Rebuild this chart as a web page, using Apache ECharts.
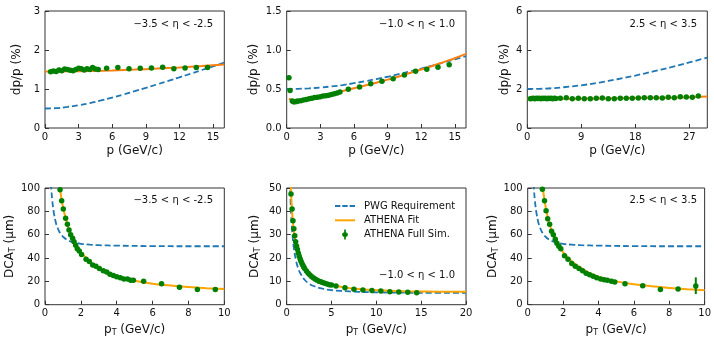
<!DOCTYPE html>
<html><head><meta charset="utf-8">
<script src="https://cdn.jsdelivr.net/npm/echarts@6/dist/echarts.min.js"></script>
<style>html,body{margin:0;padding:0;background:#fff}#c{width:714px;height:338px}</style>
</head><body><div id="c"></div>
<script>
// ---------- Panel 1: dp/p, -3.5 < eta < -2.5 ----------
const p1PwgP = [0,1,2,3,4,5,6,7,8,9,10,11,12,13,14,15,16];
const p1PwgV = [0.5,0.51,0.539,0.583,0.64,0.707,0.781,0.86,0.943,1.03,1.118,1.208,1.3,1.393,1.487,1.581,1.676];
const p1FitP = [0,2,4,6,8,10,12,14,16];
const p1FitV = [1.45,1.453,1.462,1.477,1.497,1.523,1.554,1.59,1.63];
const p1SimP = [0.5,0.75,1.0,1.25,1.5,1.75,2.0,2.25,2.5,2.75,3.0,3.25,3.5,3.75,4.0,4.25,4.5,4.75,5.5,6.5,7.5,8.5,9.5,10.5,11.5,12.5,13.5,14.5];
const p1SimV = [1.44,1.46,1.45,1.49,1.47,1.51,1.50,1.48,1.47,1.50,1.53,1.52,1.49,1.52,1.50,1.55,1.51,1.50,1.53,1.55,1.52,1.53,1.54,1.56,1.52,1.54,1.55,1.55];

// ---------- Panel 2: dp/p, -1.0 < eta < 1.0 ----------
const p2PwgP = [0,1,2,3,4,5,6,7,8,9,10,11,12,13,14,15,16];
const p2PwgV = [0.5,0.502,0.508,0.519,0.533,0.551,0.574,0.6,0.628,0.657,0.69,0.725,0.762,0.8,0.84,0.88,0.92];
const p2FitP = [0.2,0.5,1,2,3,4,5,6,7,8,9,10,11,12,13,14,15,16];
const p2FitV = [0.375,0.36,0.355,0.375,0.405,0.44,0.475,0.51,0.545,0.58,0.62,0.66,0.705,0.75,0.795,0.845,0.895,0.95];
const p2SimP = [0.2,0.3,0.5,0.6,0.7,0.8,0.9,1.0,1.25,1.5,1.75,2.0,2.25,2.5,2.75,3.0,3.25,3.5,3.75,4.0,4.25,4.5,4.75,5.5,6.5,7.5,8.5,9.5,10.5,11.5,12.5,13.5,14.5];
const p2SimV = [0.645,0.48,0.345,0.335,0.335,0.34,0.34,0.345,0.35,0.36,0.365,0.375,0.38,0.39,0.395,0.40,0.41,0.415,0.42,0.43,0.44,0.45,0.46,0.496,0.525,0.568,0.598,0.633,0.68,0.727,0.752,0.778,0.81];

// ---------- Panel 3: dp/p, 2.5 < eta < 3.5 ----------
const p3PwgP = [0,3,6,9,12,15,18,21,24,27,30];
const p3PwgV = [2.0,2.02,2.09,2.19,2.33,2.5,2.69,2.9,3.12,3.36,3.61];
const p3FitP = [0,5,10,15,20,25,30];
const p3FitV = [1.5,1.502,1.51,1.525,1.545,1.57,1.61];
const p3SimP = [0.5,0.75,1,1.25,1.5,1.75,2,2.25,2.5,2.75,3,3.25,3.5,3.75,4,4.25,4.5,4.75,5.5,6.5,7.5,8.5,9.5,10.5,11.5,12.5,13.5,14.5,15.5,16.5,17.5,18.5,19.5,20.5,21.5,22.5,23.5,24.5,25.5,26.5,27.5,28.5];
const p3SimV = [1.50,1.51,1.52,1.50,1.53,1.51,1.52,1.50,1.53,1.51,1.52,1.50,1.52,1.51,1.53,1.50,1.52,1.51,1.52,1.556,1.504,1.521,1.504,1.504,1.521,1.538,1.504,1.504,1.521,1.521,1.521,1.538,1.556,1.556,1.556,1.538,1.573,1.556,1.607,1.59,1.573,1.641];

// ---------- Panel 4: DCA_T, -3.5 < eta < -2.5 ----------
const p4PwgP = [0.33,0.35,0.4,0.45,0.5,0.6,0.7,0.8,0.9,1,1.2,1.5,2,2.5,3,4,6,8,10];
const p4PwgV = [104,99.2,90.1,83.3,78.1,70.7,65.9,62.5,60.1,58.3,55.9,53.9,52.2,51.4,51.0,50.6,50.2,50.1,50.1];
const p4FitP = [0.8,0.85,1,1.25,1.5,1.75,2,2.5,3,3.5,4,5,6,7,8,9,10];
const p4FitV = [104,98,84,68.5,58,51,45,37,31.5,27.5,24.5,20.5,18,16.5,15.2,14.2,13.4];
const p4SimP = [0.84,0.93,1.02,1.15,1.25,1.34,1.43,1.54,1.62,1.71,1.8,1.91,2.04,2.29,2.47,2.66,2.84,3.03,3.25,3.44,3.62,3.81,4.0,4.2,4.4,4.6,4.78,4.93,5.5,6.5,7.5,8.5,9.5];
const p4SimV = [98.6,89,82,74,69,64,60,57,54,51,48,46,43,39,37,34,33,31,29,28,26,25,24,23,22,22,21,21,20,18,15,13,13];
const p4ErrP = [9.5];
const p4ErrLo = [11];
const p4ErrHi = [15];

// ---------- Panel 5: DCA_T, -1.0 < eta < 1.0 ----------
const p5PwgP = [0.36,0.38,0.45,0.5,0.6,0.7,0.8,1,1.25,1.5,2,2.5,3,4,5,6,8,10,15,20];
const p5PwgV = [53,50.2,42.5,38.3,32.1,27.6,24.3,19.6,15.9,13.6,10.7,9.0,8.0,6.9,6.2,5.9,5.5,5.3,5.1,5.05];
const p5FitP = [0.45,0.5,0.6,0.7,0.8,0.9,1.0,1.2,1.4,1.6,1.8,2.0,2.5,3.0,3.5,4,5,6,7,8,10,12,14,17,20];
const p5FitV = [52,46.5,40,35.3,31.8,29,26.8,23.4,20.9,19,17.4,16.1,13.6,12,10.8,9.9,8.6,7.7,7.1,6.7,6.2,5.9,5.7,5.6,5.5];
const p5SimP = [0.48,0.6,0.7,0.8,0.9,1.0,1.1,1.2,1.3,1.4,1.5,1.6,1.7,1.8,1.9,2.0,2.2,2.4,2.6,2.8,3.0,3.2,3.4,3.6,3.8,4.0,4.25,4.5,4.75,5.0,5.5,6.5,7.5,8.5,9.5,10.5,11.5,12.5,13.5,14.5];
const p5SimV = [47.4,41,36,32.5,29.5,27,25.2,23.6,22,20.8,19.6,18.6,17.7,16.9,16.2,15.5,14.4,13.5,12.7,12.0,11.4,10.9,10.5,10.1,9.8,9.5,9.2,8.9,8.6,8.4,8.0,7.3,6.6,6.3,6.1,5.9,5.5,5.4,5.3,5.1];

// ---------- Panel 6: DCA_T, 2.5 < eta < 3.5 ----------
const p6PwgP = [0.33,0.35,0.4,0.45,0.5,0.6,0.7,0.8,0.9,1,1.2,1.5,2,2.5,3,4,6,8,10];
const p6PwgV = [104,99.2,90.1,83.3,78.1,70.7,65.9,62.5,60.1,58.3,55.9,53.9,52.2,51.4,51.0,50.6,50.2,50.1,50.1];
const p6FitP = [0.8,0.85,1,1.25,1.5,1.75,2,2.5,3,3.5,4,5,6,7,8,9,10];
const p6FitV = [104,100,85,68,58,51,45,37,31.5,27,24,20,17.5,15.8,14.4,13.3,12.4];
const p6SimP = [0.83,0.95,1.04,1.13,1.24,1.35,1.45,1.56,1.65,1.76,1.87,2.08,2.28,2.49,2.69,2.9,3.1,3.3,3.5,3.7,3.9,4.12,4.32,4.5,4.73,4.92,5.5,6.5,7.5,8.5,9.5];
const p6SimV = [99,89,80.6,73.7,69,63,60,56,52.6,50,48,42,39,35.4,33,31,29,27,25.7,24.3,23,22,21.4,21,20,19.4,18,16.3,13,13.4,16];
const p6ErrP = [9.5];
const p6ErrLo = [9.1];
const p6ErrHi = [23.4];

// ---------- Axis ticks ----------
const xTicksTop12 = [0,3,6,9,12,15];
const xTicksTop3 = [0,9,18,27];
const xTicksBot = [0,2,4,6,8,10];
const xTicksBot5 = [0,5,10,15,20];
const yTicks1 = [0,1,2,3];
const yTicks2 = [0,0.5,1.0,1.5];
const yTicks3 = [0,2,4,6];
const yTicks4 = [0,20,40,60,80,100];
const yTicks5 = [0,10,20,30,40,50];
const etaLabels = ['−3.5 < η < -2.5','−1.0 < η < 1.0','2.5 < η < 3.5','−3.5 < η < -2.5','−1.0 < η < 1.0','2.5 < η < 3.5'];
const legendNames = ['PWG Requirement','ATHENA Fit','ATHENA Full Sim.'];

const FF = 'DejaVu Sans';
const TXT = '#111';
const BLUE = '#1f77b4', ORANGE_TOP = '#ff7f0e', ORANGE_BOT = '#ffa500', GREEN = '#008000';
const zip = (a, b) => a.map((v, i) => [v, b[i]]);

const grids = [
  {left:45, top:11, width:179.3, height:117},
  {left:286.7, top:11, width:179.3, height:117},
  {left:527.3, top:11, width:180, height:117},
  {left:45, top:188, width:179.3, height:116.7},
  {left:286.7, top:188, width:179.3, height:116.7},
  {left:527.7, top:188, width:179.6, height:116.7}
].map(g => Object.assign({show:true, borderColor:'#333', borderWidth:1, containLabel:false}, g));

const subRich = {
  n:{fontFamily:FF, fontSize:12, color:TXT, lineHeight:14, verticalAlign:'middle'},
  s:{fontFamily:FF, fontSize:8, color:TXT, lineHeight:8, verticalAlign:'bottom'}
};
function xAx(i, max, ticks, name, gap){
  return {gridIndex:i, type:'value', min:0, max:max,
    name:name, nameLocation:'middle', nameGap:gap,
    nameTextStyle:{fontFamily:FF, fontSize:12, color:TXT, rich:subRich},
    axisLine:{show:false}, splitLine:{show:false},
    axisTick:{show:true, inside:true, length:4, lineStyle:{color:'#333'}, customValues:ticks},
    axisLabel:{fontFamily:FF, fontSize:10, color:TXT, margin:4, customValues:ticks}};
}
function yAx(i, max, ticks, name, gap, dec){
  return {gridIndex:i, type:'value', min:0, max:max,
    name:name, nameLocation:'middle', nameGap:gap,
    nameTextStyle:{fontFamily:FF, fontSize:12, color:TXT, rich:subRich},
    axisLine:{show:false}, splitLine:{show:false},
    axisTick:{show:true, inside:true, length:4, lineStyle:{color:'#333'}, customValues:ticks},
    axisLabel:{fontFamily:FF, fontSize:10, color:TXT, margin:5, customValues:ticks,
      formatter: v => dec ? Number(v).toFixed(dec) : String(v)}};
}
const xAxes = [
  xAx(0,16,xTicksTop12,'p (GeV/c)',17),
  xAx(1,16,xTicksTop12,'p (GeV/c)',17),
  xAx(2,30,xTicksTop3,'p (GeV/c)',17),
  xAx(3,10,xTicksBot,'{n|p}{s|T}{n| (GeV/c)}',18),
  xAx(4,20,xTicksBot5,'{n|p}{s|T}{n| (GeV/c)}',18),
  xAx(5,10,xTicksBot,'{n|p}{s|T}{n| (GeV/c)}',18)
];
const yAxes = [
  yAx(0,3,yTicks1,'dp/p (%)',22,0),
  yAx(1,1.5,yTicks2,'dp/p (%)',27,1),
  yAx(2,6,yTicks3,'dp/p (%)',16,0),
  yAx(3,100,yTicks4,'{n|DCA}{s|T}{n| (μm)}',24,0),
  yAx(4,50,yTicks5,'{n|DCA}{s|T}{n| (μm)}',25,0),
  yAx(5,100,yTicks4,'{n|DCA}{s|T}{n| (μm)}',26,0)
];

const panels = [
  {pwg:zip(p1PwgP,p1PwgV), fit:zip(p1FitP,p1FitV), sim:zip(p1SimP,p1SimV), orange:ORANGE_TOP},
  {pwg:zip(p2PwgP,p2PwgV), fit:zip(p2FitP,p2FitV), sim:zip(p2SimP,p2SimV), orange:ORANGE_TOP},
  {pwg:zip(p3PwgP,p3PwgV), fit:zip(p3FitP,p3FitV), sim:zip(p3SimP,p3SimV), orange:ORANGE_TOP},
  {pwg:zip(p4PwgP,p4PwgV), fit:zip(p4FitP,p4FitV), sim:zip(p4SimP,p4SimV), orange:ORANGE_BOT,
    err:p4ErrP.map((x,i)=>[x,p4ErrLo[i],p4ErrHi[i]])},
  {pwg:zip(p5PwgP,p5PwgV), fit:zip(p5FitP,p5FitV), sim:zip(p5SimP,p5SimV), orange:ORANGE_BOT},
  {pwg:zip(p6PwgP,p6PwgV), fit:zip(p6FitP,p6FitV), sim:zip(p6SimP,p6SimV), orange:ORANGE_BOT,
    err:p6ErrP.map((x,i)=>[x,p6ErrLo[i],p6ErrHi[i]])}
];

const series = [];
panels.forEach((p, i) => {
  series.push({name:legendNames[0], type:'line', xAxisIndex:i, yAxisIndex:i, data:p.pwg,
    smooth:0.4, showSymbol:false, symbol:'none', z:2, silent:true,
    lineStyle:{color:BLUE, width:1.8, type:[6,3]}, itemStyle:{color:BLUE}});
  series.push({name:legendNames[1], type:'line', xAxisIndex:i, yAxisIndex:i, data:p.fit,
    smooth:0.4, showSymbol:false, symbol:'none', z:3, silent:true,
    lineStyle:{color:p.orange, width:2}, itemStyle:{color:p.orange}});
  series.push({name:legendNames[2], type:'scatter', xAxisIndex:i, yAxisIndex:i, data:p.sim,
    symbol:'circle', symbolSize:5.5, z:4, silent:true, itemStyle:{color:GREEN, opacity:1}});
  if (p.err) {
    series.push({name:legendNames[2], type:'custom', xAxisIndex:i, yAxisIndex:i, data:p.err, z:4, silent:true,
      itemStyle:{color:GREEN, opacity:1},
      renderItem:(params, api) => {
        const a = api.coord([api.value(0), api.value(1)]);
        const b = api.coord([api.value(0), api.value(2)]);
        return {type:'line', shape:{x1:a[0], y1:a[1], x2:b[0], y2:b[1]}, style:{stroke:GREEN, lineWidth:2}};
      }});
  }
});

const etaPos = [[213,24],[455,24],[697,24],[213,200],[455,275.5],[697,200]];
const graphic = etaLabels.map((t, i) => ({type:'text', x:etaPos[i][0], y:etaPos[i][1], silent:true,
  style:{text:t, fill:TXT, font:'10px "DejaVu Sans"', textAlign:'right', textVerticalAlign:'middle'}}));

const option = {
  animation:false,
  backgroundColor:'#fff',
  grid:grids, xAxis:xAxes, yAxis:yAxes, series:series, graphic:graphic,
  legend:{orient:'vertical', left:330, top:196, itemWidth:20, itemHeight:10, itemGap:4.3,
    selectedMode:false,
    textStyle:{fontFamily:FF, fontSize:10, color:TXT, padding:[0,0,0,4]},
    itemStyle:{borderWidth:0, opacity:1},
    data:[
      {name:legendNames[0], icon:'path://M0,0h5.5v2h-5.5z M7.5,0h5.5v2h-5.5z M15,0h5.5v2h-5.5z', itemStyle:{color:BLUE, opacity:1}},
      {name:legendNames[1], icon:'path://M0,0h20v2h-20z', itemStyle:{color:ORANGE_BOT, opacity:1}},
      {name:legendNames[2], icon:'path://M4,0h2v3.2l1.8,0.8l0.8,2l-0.8,2l-1.8,0.8v3.2h-2v-3.2l-1.8,-0.8l-0.8,-2l0.8,-2l1.8,-0.8z', itemStyle:{color:GREEN, opacity:1, borderWidth:0}}
    ]}
};
const chart = echarts.init(document.getElementById('c'), null, {renderer:'canvas'});
chart.setOption(option);
</script></body></html>
